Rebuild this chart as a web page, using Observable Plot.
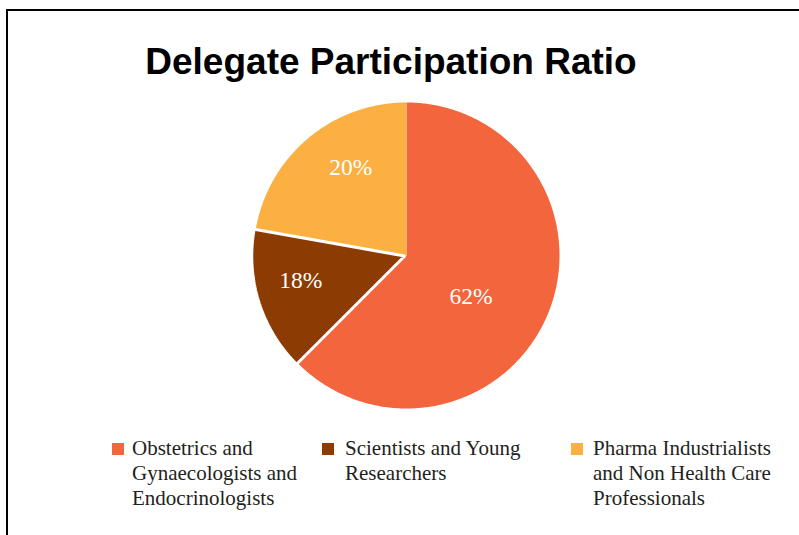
<!DOCTYPE html>
<html>
<head>
<meta charset="utf-8">
<script src="https://cdn.jsdelivr.net/npm/d3@7"></script>
<script src="https://cdn.jsdelivr.net/npm/@observablehq/plot@0.6"></script>
<style>
  html, body { margin: 0; padding: 0; background: #fff; width: 799px; height: 535px; overflow: hidden; }
  #frame { position: absolute; left: 6px; top: 9px; width: 900px; height: 700px; border: 2px solid #000; box-sizing: border-box; }
  #title { position: absolute; left: 0; top: 40px; width: 782px; text-align: center; font-family: "Liberation Sans", Arial, sans-serif; font-weight: bold; font-size: 37px; line-height: 44px; color: #000; }
  #chart { position: absolute; left: 0; top: 95px; }
  .item { position: absolute; top: 436px; font-family: "Liberation Serif", serif; font-size: 21px; line-height: 25px; color: #231f20; }
  .sw { position: absolute; left: 0; top: 7px; width: 12px; height: 12px; }
  .tx { position: absolute; top: 0; }
</style>
</head>
<body>
<div id="frame"></div>
<div id="title"></div>
<div id="chart"></div>
<div id="legend"></div>
<script>
const titleText = "Delegate Participation Ratio";
const categories = [
  "Obstetrics and Gynaecologists and Endocrinologists",
  "Scientists and Young Researchers",
  "Pharma Industrialists and Non Health Care Professionals"
];
// slice sizes as drawn in the picture
const sliceValues = [62.5, 15.3, 22.2];
// printed labels
const percentLabels = ["62%", "18%", "20%"];
const colors = ["#F3653C", "#8C3C02", "#FBB041"];

document.getElementById("title").textContent = titleText;

const total = d3.sum(sliceValues);
const polys = [];
const labels = [];
let start = 0;
const explode = [0, 0.012, 0];
const labelR = [0.5, 0.71, 0.68];
const labelShift = [10, 4, 7.5].map(d => d * Math.PI / 180);
sliceValues.forEach((v, i) => {
  const a0 = start / total * 2 * Math.PI;
  const a1 = (start + v) / total * 2 * Math.PI;
  const mid = (a0 + a1) / 2;
  const ox = explode[i] * Math.sin(mid), oy = explode[i] * Math.cos(mid);
  polys.push({cat: categories[i], x: ox, y: oy});
  const n = Math.max(4, Math.ceil((a1 - a0) / 0.01));
  for (let k = 0; k <= n; k++) {
    const a = a0 + (a1 - a0) * k / n;
    polys.push({cat: categories[i], x: ox + Math.sin(a), y: oy + Math.cos(a)});
  }
  const la = mid + labelShift[i];
  labels.push({cat: categories[i], text: percentLabels[i], x: labelR[i] * Math.sin(la), y: labelR[i] * Math.cos(la)});
  start += v;
});

const R = 153;
const cx = 406, cy = 160, H = 325;
const plot = Plot.plot({
  width: 799,
  height: H,
  marginLeft: cx - R,
  marginRight: 799 - cx - R,
  marginTop: cy - R,
  marginBottom: H - cy - R,
  x: {domain: [-1, 1], axis: null},
  y: {domain: [-1, 1], axis: null},
  color: {domain: categories, range: colors},
  marks: [
    Plot.line(polys.filter(d => d.cat !== categories[1]), {x: "x", y: "y", z: "cat", fill: "cat", stroke: "none", curve: "linear-closed"}),
    Plot.line(polys.filter(d => d.cat === categories[1]), {x: "x", y: "y", z: "cat", fill: "cat", stroke: "#fff", strokeWidth: 3, strokeLinejoin: "miter", curve: "linear-closed"}),
    Plot.text(labels, {x: "x", y: "y", text: "text", fill: "#fff", fontSize: 23.5, fontFamily: "Liberation Serif, serif"})
  ]
});
document.getElementById("chart").appendChild(plot);

const legendX = [112, 322, 571];
const textOff = [20, 23, 22];
const legendW = [170, 190, 200];
const legend = document.getElementById("legend");
categories.forEach((c, i) => {
  const it = document.createElement("div");
  it.className = "item";
  it.style.left = legendX[i] + "px";
  it.style.width = (legendW[i] + textOff[i]) + "px";
  const sw = document.createElement("div");
  sw.className = "sw";
  sw.style.background = colors[i];
  const tx = document.createElement("div");
  tx.className = "tx";
  tx.style.left = textOff[i] + "px";
  tx.style.width = legendW[i] + "px";
  tx.textContent = c;
  it.appendChild(sw);
  it.appendChild(tx);
  legend.appendChild(it);
});
</script>
</body>
</html>
